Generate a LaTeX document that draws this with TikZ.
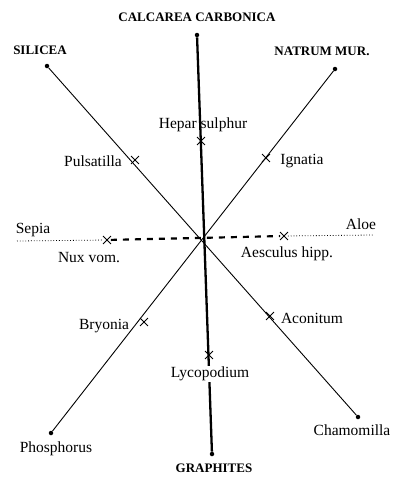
\documentclass[tikz,border=0pt]{standalone}
\usepackage{fontspec}
\setmainfont{Liberation Serif}
\usetikzlibrary{shapes.misc}

\begin{document}
\begin{tikzpicture}[x=1pt, y=-1pt,
    enddot/.style={circle, fill=black, inner sep=0pt, minimum size=4.5pt},
    xmark/.style={cross out, draw=black, line width=0.9pt, inner sep=0pt, minimum size=7pt},
    pole/.style={font=\fontsize{13}{15}\selectfont\bfseries, inner sep=1pt},
    remedy/.style={font=\fontsize{15.5}{17}\selectfont, inner sep=1pt}]
    \useasboundingbox (0,0) rectangle (400,488);

    % end points of the axes
    \node[enddot] (calc) at (197,35) {};
    \node[enddot] (graph) at (212,454) {};
    \node[enddot] (sil) at (47,66) {};
    \node[enddot] (cham) at (358,417) {};
    \node[enddot] (natr) at (335,69) {};
    \node[enddot] (phos) at (51,433) {};
    \coordinate (sepiaend) at (17,241);
    \coordinate (aloeend) at (373,235);

    % axes
    \draw[line width=2.3pt] (calc) -- (graph);
    \draw[line width=0.9pt] (sil) -- (cham);
    \draw[line width=0.9pt] (natr) -- (phos);

    % crosses on the axes
    \node[xmark] (hepar) at (201,141) {};
    \node[xmark] (lyco) at (209,355) {};
    \node[xmark] (puls) at (135,160) {};
    \node[xmark] (ign) at (266,158) {};
    \node[xmark] (bry) at (144,322) {};
    \node[xmark] (acon) at (270,316) {};
    \node[xmark] (nux) at (107,240) {};
    \node[xmark] (aesc) at (284,236) {};

    % horizontal axis
    \draw[line width=2.2pt, dash pattern=on 6pt off 6pt] (nux) -- (aesc);
    \draw[line width=0.8pt, dotted] (sepiaend) -- (nux);
    \draw[line width=0.8pt, dotted] (aesc) -- (aloeend);

    % labels
    \node[pole] (calclbl) at (197,17) {CALCAREA CARBONICA};
    \node[pole] (graphlbl) at (214,468) {GRAPHITES};
    \node[pole] (sillbl) at (40,50) {SILICEA};
    \node[pole] (natrlbl) at (322,51) {NATRUM MUR.};
    \node[remedy] (heparlbl) at (203,125) {Hepar\hspace{4pt}sulphur};
    \node[remedy, fill=white] (lycolbl) at (210,374) {Lycopodium};
    \node[remedy] (pulslbl) at (93,161) {Pulsatilla};
    \node[remedy] (ignlbl) at (302,161) {Ignatia};
    \node[remedy] (brylbl) at (104,326) {Bryonia};
    \node[remedy] (aconlbl) at (312,318) {Aconitum};
    \node[remedy] (sepialbl) at (33,230) {Sepia};
    \node[remedy] (aloelbl) at (361,224) {Aloe};
    \node[remedy] (nuxlbl) at (89,258) {Nux vom.};
    \node[remedy] (aesclbl) at (287,254) {Aesculus hipp.};
    \node[remedy] (phoslbl) at (56,449) {Phosphorus};
    \node[remedy] (chamlbl) at (352,430) {Chamomilla};
\end{tikzpicture}
\end{document}
